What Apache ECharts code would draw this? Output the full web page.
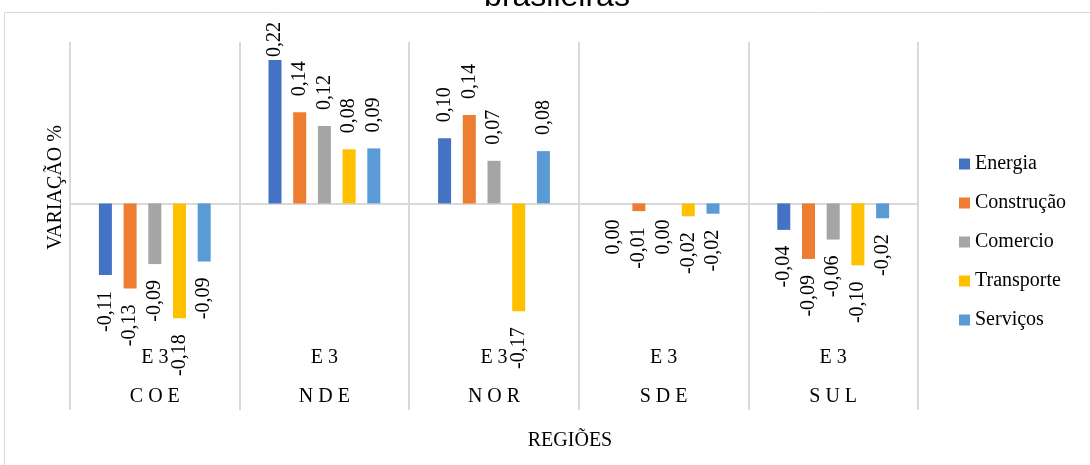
<!DOCTYPE html>
<html>
<head>
<meta charset="utf-8">
<script src="https://cdn.jsdelivr.net/npm/echarts@6/dist/echarts.min.js"></script>
<style>
  html, body { margin: 0; padding: 0; background: #fff; }
  #chart { width: 1090px; height: 465px; }
</style>
</head>
<body>
<div id="chart"></div>
<script>
// regiões e rótulo interno do eixo
const regions = ["COE", "NDE", "NOR", "SDE", "SUL"];
const innerLabels = ["E3", "E3", "E3", "E3", "E3"];

// variação % por setor
const energia = [-0.111, 0.222, 0.101, 0.0, -0.041];
const construcao = [-0.132, 0.141, 0.137, -0.012, -0.086];
const comercio = [-0.094, 0.120, 0.066, 0.0, -0.056];
const transporte = [-0.178, 0.0838, -0.167, -0.020, -0.096];
const servicos = [-0.090, 0.0852, 0.081, -0.016, -0.023];

const seriesNames = ["Energia", "Construção", "Comercio", "Transporte", "Serviços"];
const seriesData = [energia, construcao, comercio, transporte, servicos];
const colors = ["#4472C4", "#ED7D31", "#A5A5A5", "#FFC000", "#5B9BD5"];

const serif = "'Liberation Serif', 'Times New Roman', serif";
const spaced = s => s.split("").join(" ");
const fmt = v => v.toFixed(2).replace(".", ",");

const chart = echarts.init(document.getElementById("chart"));

const series = seriesNames.map((name, i) => ({
  name,
  type: "bar",
  xAxisIndex: 0,
  barWidth: 13,
  barGap: "90%",
  itemStyle: { color: colors[i] },
  data: seriesData[i].map(v => ({
    value: v,
    label: v > 0
      ? { position: "top", align: "left", distance: v > 0.2 ? 3 : 16 }
      : { position: "bottom", align: "right", distance: 16 }
  })),
  label: {
    show: true,
    rotate: 90,
    verticalAlign: "middle",
    formatter: p => fmt(p.value),
    fontFamily: serif,
    fontSize: 20,
    color: "#000"
  }
}));

chart.setOption({
  animation: false,
  grid: { left: 70, right: 172, top: 42, bottom: 55 },
  legend: {
    orient: "vertical",
    left: 959,
    top: 154,
    padding: 0,
    icon: "rect",
    itemWidth: 11,
    itemHeight: 11,
    itemGap: 19,
    textStyle: { fontFamily: serif, fontSize: 20, lineHeight: 20, color: "#000" },
    data: seriesNames
  },
  xAxis: [
    {
      type: "category",
      data: regions,
      axisLine: { onZero: true, lineStyle: { color: "#d9d9d9", width: 2 } },
      axisTick: { show: false },
      axisLabel: { show: false },
      splitLine: { show: true, lineStyle: { color: "#d9d9d9", width: 2 } }
    },
    {
      type: "category",
      data: regions,
      position: "bottom",
      offset: -72,
      axisLine: { show: false },
      axisTick: { show: false },
      splitLine: { show: false },
      axisLabel: {
        interval: 0,
        margin: 0,
        lineHeight: 39,
        fontFamily: serif,
        fontSize: 20,
        color: "#000",
        formatter: (v, i) => spaced(innerLabels[i]) + "\n" + spaced(v)
      }
    }
  ],
  yAxis: { type: "value", min: -0.32, max: 0.25, show: false },
  graphic: [
    {
      type: "rect",
      silent: true,
      shape: { x: 4.5, y: 12.5, width: 1200, height: 600 },
      style: { fill: "none", stroke: "#d9d9d9", lineWidth: 1 }
    },
    {
      type: "text",
      x: 557,
      y: -3,
      style: {
        text: "brasileiras",
        font: "32px 'Liberation Sans', Arial, sans-serif",
        fill: "#000",
        align: "center",
        verticalAlign: "middle"
      }
    },
    {
      type: "text",
      x: 55.5,
      y: 187.5,
      rotation: Math.PI / 2,
      style: {
        text: "VARIAÇÃO %",
        font: "20px " + serif,
        fill: "#000",
        align: "center",
        verticalAlign: "middle"
      }
    },
    {
      type: "text",
      x: 570,
      y: 441,
      style: {
        text: "REGIÕES",
        font: "20px " + serif,
        fill: "#000",
        align: "center",
        verticalAlign: "middle"
      }
    }
  ],
  series
});
</script>
</body>
</html>
